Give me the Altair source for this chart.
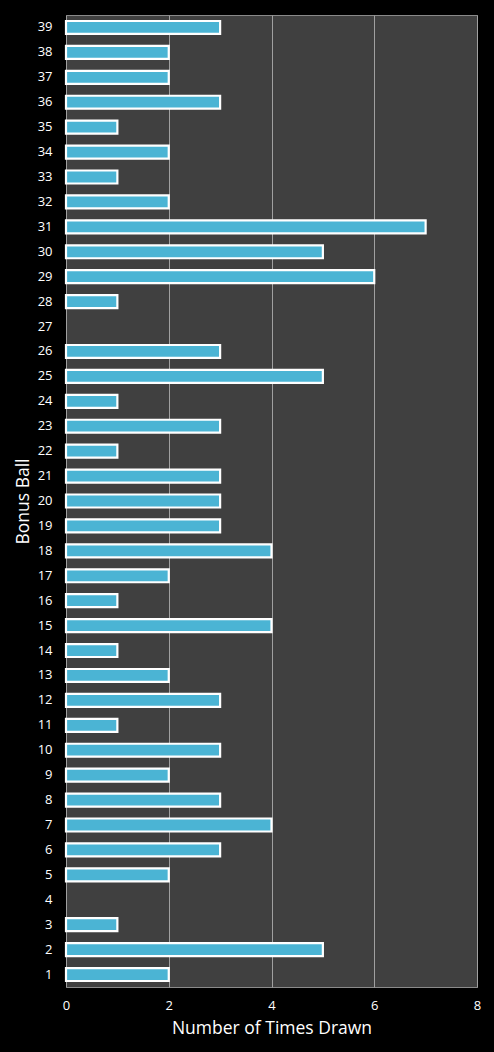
import altair as alt
import pandas as pd

# Bonus ball numbers and how many times each has been drawn
balls = list(range(1, 40))
times_drawn = [2, 5, 1, 0, 2, 3, 4, 3, 2, 3,
               1, 3, 2, 1, 4, 1, 2, 4, 3, 3,
               3, 1, 3, 1, 5, 3, 0, 1, 6, 5,
               7, 2, 1, 2, 1, 3, 2, 2, 3]
x_ticks = [0, 2, 4, 6, 8]

df = pd.DataFrame({"ball": balls, "drawn": times_drawn})

font = "Open Sans"

bars = alt.Chart(df).mark_bar(
    color="#4bb4d4",
    stroke="#ffffff",
    strokeWidth=2.2,
).encode(
    x=alt.X(
        "drawn:Q",
        scale=alt.Scale(domain=[0, 8], nice=False),
        axis=alt.Axis(
            values=x_ticks,
            title="Number of Times Drawn",
            grid=True,
            gridColor="#a0a0a0",
            gridWidth=1,
            domain=False,
            ticks=False,
            labelFlush=False,
            labelPadding=12,
            labelFontSize=13,
            labelColor="#ffffff",
            labelFont=font,
            titleFont=font,
            titleFontSize=17.5,
            titleFontWeight="normal",
            titleColor="#ffffff",
            titlePadding=7,
        ),
    ),
    y=alt.Y(
        "ball:O",
        sort="descending",
        scale=alt.Scale(paddingInner=0.48, paddingOuter=0.24),
        axis=alt.Axis(
            title="Bonus Ball",
            domain=False,
            ticks=False,
            labelPadding=14,
            labelFontSize=13,
            labelColor="#ffffff",
            labelFont=font,
            titleFont=font,
            titleFontSize=17.5,
            titleFontWeight="normal",
            titleColor="#ffffff",
            titlePadding=5,
        ),
    ),
    strokeOpacity=alt.condition(alt.datum.drawn > 0, alt.value(1), alt.value(0)),
)

chart = bars.properties(
    width=411,
    height=972,
    background="#000000",
    padding={"left": 66, "top": 15, "right": 17, "bottom": 65},
    autosize=alt.AutoSizeParams(type="none"),
).configure_view(
    fill="#404040",
    stroke="#8a8a8a",
    strokeWidth=1,
)

chart.save("out.html", embed_options={"renderer": "svg", "actions": False})
